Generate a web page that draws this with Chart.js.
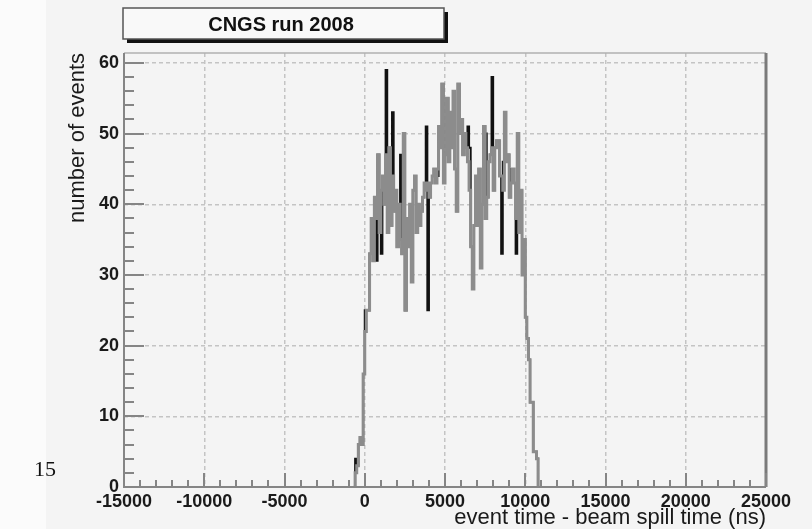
<!DOCTYPE html>
<html>
<head>
<meta charset="utf-8">
<script src="https://cdn.jsdelivr.net/npm/chart.js@4"></script>
<style>
  html, body { margin: 0; padding: 0; background: #f4f4f4; }
  #wrap { width: 812px; height: 529px; }
</style>
</head>
<body>
<div id="wrap"><canvas id="grafico" width="812" height="529"></canvas></div>
<script>
// histogram binning, in ns
const binStart = -700;
const binWidth = 100;

// event counts per bin (gray = all events, black = second selection)
const grayCounts = [
  0, 2, 3, 6, 7, 6, 16, 22, 25, 25, 33, 38, 32, 41, 38, 47, 36, 42, 44, 40,
  47, 36, 48, 37, 44, 39, 42, 34, 40, 35, 33, 50, 25, 38, 34, 40, 29, 42, 44, 36,
  40, 37, 39, 41, 43, 42, 43, 41, 43, 44, 45, 43, 45, 51, 48, 57, 43, 47, 55, 46,
  53, 48, 56, 45, 39, 57, 50, 52, 47, 50, 48, 46, 42, 34, 28, 37, 44, 37, 45, 31,
  40, 51, 38, 41, 46, 47, 48, 42, 48, 49, 49, 44, 44, 42, 53, 46, 47, 41, 43, 45,
  43, 38, 50, 36, 42, 30, 35, 24, 21, 18, 12, 12, 5, 5, 4
];
const blackCounts = [
  0, 4, 3, 6, 7, 6, 16, 25, 25, 25, 33, 38, 32, 41, 32, 47, 36, 33, 44, 40,
  59, 36, 48, 37, 53, 39, 42, 34, 40, 47, 33, 50, 25, 38, 36, 40, 29, 42, 44, 36,
  40, 37, 39, 41, 43, 51, 25, 41, 43, 44, 45, 43, 44, 51, 48, 57, 47, 47, 55, 46,
  53, 48, 56, 45, 39, 57, 50, 52, 47, 50, 48, 51, 48, 34, 28, 37, 44, 37, 45, 31,
  40, 51, 50, 41, 46, 47, 58, 42, 48, 49, 49, 44, 33, 46, 53, 46, 47, 41, 45, 45,
  43, 33, 50, 36, 42, 30, 35, 24, 21, 18, 12, 12, 5, 5, 4
];

// axis ranges and labels
const xRange = [-15000, 25000];
const yRange = [0, 61.4];
const xStep = 5000;
const yStep = 10;
const tituloGrafico = 'CNGS run 2008';
const tituloX = 'event time - beam spill time (ns)';
const tituloY = 'number of events';
const notaMargen = '15';

// bins -> step points (lower edge of each bin, closing edge at the end)
function puntosHistograma(counts) {
  const pts = counts.map((c, i) => ({ x: binStart + i * binWidth, y: c }));
  pts.push({ x: binStart + counts.length * binWidth, y: 0 });
  return pts;
}

const FUENTE = '"Liberation Sans", Arial, sans-serif';

// ROOT-like frame: background, inner ticks, frame lines, titles
const marcoRoot = {
  id: 'marcoRoot',
  beforeDraw(chart) {
    const ctx = chart.ctx;
    ctx.save();
    ctx.fillStyle = '#f4f4f4';
    ctx.fillRect(0, 0, chart.width, chart.height);
    ctx.fillStyle = '#fbfbfb';
    ctx.fillRect(0, 0, 46, chart.height);
    ctx.restore();
  },
  afterDraw(chart) {
    const ctx = chart.ctx;
    const a = chart.chartArea;
    const xs = chart.scales.x;
    const ys = chart.scales.y;
    ctx.save();

    // frame
    ctx.strokeStyle = '#b0b0b0';
    ctx.lineWidth = 1.5;
    ctx.beginPath();
    ctx.moveTo(a.left, a.top);
    ctx.lineTo(a.right, a.top);
    ctx.stroke();
    ctx.strokeStyle = '#7a7a7a';
    ctx.lineWidth = 3;
    ctx.beginPath();
    ctx.moveTo(a.right, a.top);
    ctx.lineTo(a.right, a.bottom);
    ctx.stroke();
    ctx.strokeStyle = '#858585';
    ctx.lineWidth = 2;
    ctx.beginPath();
    ctx.moveTo(a.left, a.top);
    ctx.lineTo(a.left, a.bottom);
    ctx.lineTo(a.right, a.bottom);
    ctx.stroke();

    // inner ticks
    ctx.lineWidth = 2;
    ctx.beginPath();
    for (let v = yRange[0]; v <= yRange[1]; v += 2) {
      const py = Math.round(ys.getPixelForValue(v));
      const largo = v % yStep === 0 ? 20 : 10;
      ctx.moveTo(a.left, py);
      ctx.lineTo(a.left + largo, py);
    }
    for (let v = xRange[0]; v <= xRange[1]; v += 1000) {
      const px = Math.round(xs.getPixelForValue(v));
      const largo = v % xStep === 0 ? 14 : 7;
      ctx.moveTo(px, a.bottom);
      ctx.lineTo(px, a.bottom - largo);
    }
    ctx.stroke();

    // axis titles
    ctx.fillStyle = '#1a1a1a';
    ctx.font = '22px ' + FUENTE;
    ctx.textAlign = 'right';
    ctx.textBaseline = 'alphabetic';
    ctx.fillText(tituloX, a.right, 524);
    ctx.save();
    ctx.translate(84, a.top);
    ctx.rotate(-Math.PI / 2);
    ctx.fillText(tituloY, 0, 0);
    ctx.restore();

    // title box with shadow
    ctx.fillStyle = '#111';
    ctx.fillRect(127, 12, 321, 31);
    ctx.fillStyle = '#f9f9f9';
    ctx.fillRect(123, 8, 321, 31);
    ctx.strokeStyle = '#555';
    ctx.lineWidth = 1.5;
    ctx.strokeRect(123, 8, 321, 31);
    ctx.fillStyle = '#111';
    ctx.font = 'bold 20px ' + FUENTE;
    ctx.textAlign = 'center';
    ctx.textBaseline = 'middle';
    ctx.fillText(tituloGrafico, 281, 25);

    // page number in the margin
    ctx.font = '22px "Liberation Serif", serif';
    ctx.textAlign = 'left';
    ctx.fillText(notaMargen, 34, 470);
    ctx.restore();
  }
};

const canvas = document.getElementById('grafico');
window._chartCngs = new Chart(canvas, {
  type: 'line',
  data: {
    datasets: [
      {
        label: 'all',
        data: puntosHistograma(grayCounts),
        borderColor: '#8c8c8c',
        borderWidth: 3,
        stepped: true,
        pointRadius: 0,
        fill: false,
        order: 1
      },
      {
        label: 'selected',
        data: puntosHistograma(blackCounts),
        borderColor: '#111111',
        borderWidth: 2,
        stepped: true,
        pointRadius: 0,
        fill: false,
        order: 2
      }
    ]
  },
  options: {
    responsive: false,
    animation: false,
    devicePixelRatio: 1,
    layout: { padding: { top: 53, right: 46, left: 0, bottom: 0 } },
    plugins: {
      legend: { display: false },
      tooltip: { enabled: false }
    },
    scales: {
      x: {
        type: 'linear',
        min: xRange[0],
        max: xRange[1],
        afterFit(scale) { scale.height = 42; },
        grid: { color: '#c4c4c4', lineWidth: 1.5, drawTicks: false },
        border: { display: false, dash: [4, 3] },
        ticks: {
          stepSize: xStep,
          includeBounds: false,
          padding: 4,
          color: '#1a1a1a',
          maxRotation: 0,
          callback: (v) => String(v),
          font: { family: FUENTE, size: 18, weight: 'bold' }
        }
      },
      y: {
        type: 'linear',
        min: yRange[0],
        max: yRange[1],
        afterFit(scale) { scale.width = 124; },
        grid: { color: '#c4c4c4', lineWidth: 1.5, drawTicks: false },
        border: { display: false, dash: [4, 3] },
        ticks: {
          stepSize: yStep,
          includeBounds: false,
          padding: 5,
          color: '#1a1a1a',
          callback: (v) => String(v),
          font: { family: FUENTE, size: 18, weight: 'bold' }
        }
      }
    }
  },
  plugins: [marcoRoot]
});
</script>
</body>
</html>
